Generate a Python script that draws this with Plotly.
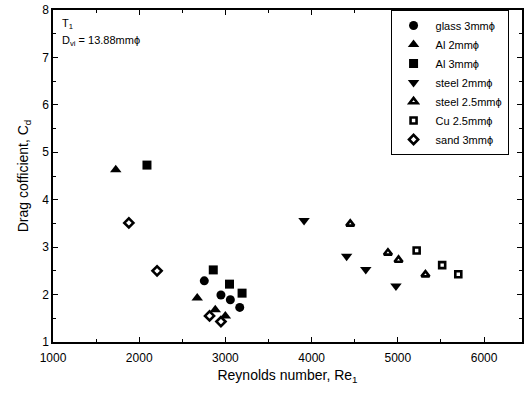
import plotly.graph_objects as go

glass_x = [2755, 2948, 3057, 3166]
glass_y = [2.29, 1.99, 1.89, 1.73]
al2_x = [1728, 2673, 2882, 2999]
al2_y = [4.63, 1.93, 1.68, 1.55]
al3_x = [2090, 2859, 3047, 3193]
al3_y = [4.73, 2.52, 2.22, 2.03]
steel2_x = [3912, 4406, 4628, 4978]
steel2_y = [3.56, 2.81, 2.53, 2.18]
steel25_x = [4448, 4885, 5008, 5320]
steel25_y = [3.49, 2.88, 2.73, 2.42]
cu_x = [5218, 5514, 5701]
cu_y = [2.93, 2.62, 2.43]
sand_x = [1880, 2207, 2816, 2948]
sand_y = [3.51, 2.50, 1.55, 1.43]

series = [
    ("glass 3mm\u03d5", glass_x, glass_y, "circle", 9),
    ("Al 2mm\u03d5", al2_x, al2_y, "triangle-up", 10),
    ("Al 3mm\u03d5", al3_x, al3_y, "square", 9),
    ("steel 2mm\u03d5", steel2_x, steel2_y, "triangle-down", 10),
    ("steel 2.5mm\u03d5", steel25_x, steel25_y, "triangle-up-open", 7),
    ("Cu 2.5mm\u03d5", cu_x, cu_y, "square-open", 6),
    ("sand 3mm\u03d5", sand_x, sand_y, "diamond-open", 7),
]

fig = go.Figure()
for name, xs, ys, sym, sz in series:
    fig.add_trace(go.Scatter(
        x=xs, y=ys, mode="markers", name=name,
        marker=dict(symbol=sym, size=sz, color="black",
                    line=dict(color="black", width=2.6 if "open" in sym else 0)),
    ))

font = "Liberation Sans, Arial, sans-serif"
fig.update_layout(
    width=524, height=399,
    margin=dict(l=53, r=0, t=10, b=57),
    paper_bgcolor="white", plot_bgcolor="white",
    font=dict(family=font, color="black", size=12),
    showlegend=True,
    legend=dict(x=(392 - 53) / (524 - 53), y=1, yanchor="top", xanchor="left",
                bordercolor="black", borderwidth=1, bgcolor="white",
                font=dict(size=11), tracegroupgap=0, itemwidth=34),
    xaxis=dict(range=[1000, 6440], tickvals=[1000, 2000, 3000, 4000, 5000, 6000],
               ticks="inside", ticklen=5, tickwidth=1, tickcolor="black",
               minor=dict(dtick=500, ticks="inside", ticklen=3, tickcolor="black"),
               showline=True, linecolor="black", linewidth=1.5, mirror="ticks",
               showgrid=False, zeroline=False, ticklabelstandoff=4,
               tickfont=dict(size=12),
               title=dict(text="Reynolds number, Re<sub>1</sub>", font=dict(size=14), standoff=6)),
    yaxis=dict(range=[1, 8], dtick=1,
               ticks="inside", ticklen=5, tickwidth=1, tickcolor="black",
               minor=dict(dtick=0.5, ticks="inside", ticklen=3, tickcolor="black"),
               showline=True, linecolor="black", linewidth=1.5, mirror="ticks",
               showgrid=False, zeroline=False,
               tickfont=dict(size=12),
               title=dict(text="Drag cofficient, C<sub>d</sub>", font=dict(size=14), standoff=10)),
    annotations=[
        dict(text="T<sub>1</sub>", xref="paper", yref="paper", x=0.015, y=0.985,
             xanchor="left", yanchor="top", showarrow=False, font=dict(size=11)),
        dict(text="D<sub>vi</sub> = 13.88mm\u03d5", xref="paper", yref="paper", x=0.015, y=0.935,
             xanchor="left", yanchor="top", showarrow=False, font=dict(size=11)),
    ],
)

fig.write_html("out.html")
